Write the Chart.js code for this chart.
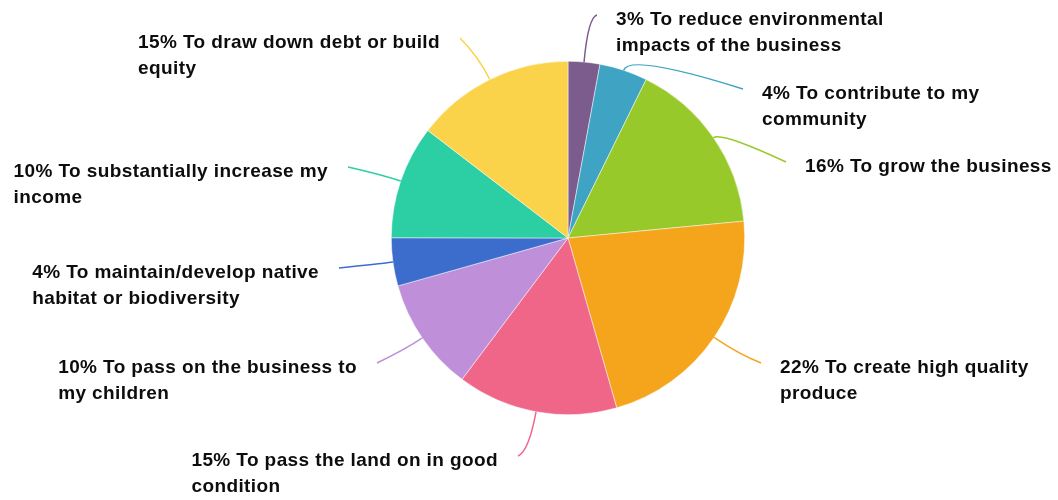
<!DOCTYPE html>
<html>
<head>
<meta charset="utf-8">
<script src="https://cdn.jsdelivr.net/npm/chart.js@4.4.1/dist/chart.umd.min.js"></script>
<style>
  html, body { margin: 0; padding: 0; background: #fff; }
  #wrap { width: 1058px; height: 500px; }
</style>
</head>
<body>
<div id="wrap"><canvas id="pie" width="1058" height="500"></canvas></div>
<script>
// data (share of respondents)
const labels = [
  ["3% To reduce environmental", "impacts of the business"],
  ["4% To contribute to my", "community"],
  ["16% To grow the business"],
  ["22% To create high quality", "produce"],
  ["15% To pass the land on in good", "condition"],
  ["10% To pass on the business to", "my children"],
  ["4% To maintain/develop native", "habitat or biodiversity"],
  ["10% To substantially increase my", "income"],
  ["15% To draw down debt or build", "equity"],
];
const values = [2.9, 4.4, 16.2, 22.1, 14.7, 10.4, 4.4, 10.4, 14.6];
const colors = [
  "#7b5c8d", "#3fa4c4", "#98c92b", "#f5a51c", "#f06689",
  "#bf8fda", "#3d6dcc", "#2ccfa3", "#fad34a",
];

// where each leader line ends (label anchor) and how far it bows out
const anchors = [
  [597, 15, 45], [743, 89, 18], [786, 162, 10], [761, 363, 30], [518, 456, 40],
  [377, 363, 20], [339, 268, 15], [348, 167, 20], [460, 38, 25],
];

const labelPlugin = {
  id: "leaderLabels",
  afterDatasetsDraw(chart) {
    const ctx = chart.ctx;
    const arcs = chart.getDatasetMeta(0).data;
    ctx.save();
    ctx.font = "bold 19px 'Liberation Sans', Arial, sans-serif";
    if ("letterSpacing" in ctx) ctx.letterSpacing = "0.4px";
    ctx.textBaseline = "middle";
    arcs.forEach((arc, i) => {
      const { x, y, startAngle, endAngle, outerRadius } = arc.getProps(
        ["x", "y", "startAngle", "endAngle", "outerRadius"], true
      );
      const mid = (startAngle + endAngle) / 2;
      const [ex, ey, bow] = anchors[i];
      const sx = x + Math.cos(mid) * outerRadius;
      const sy = y + Math.sin(mid) * outerRadius;
      const cx = x + Math.cos(mid) * (outerRadius + bow);
      const cy = y + Math.sin(mid) * (outerRadius + bow);

      ctx.strokeStyle = colors[i];
      ctx.lineWidth = 1.5;
      ctx.beginPath();
      ctx.moveTo(sx, sy);
      ctx.quadraticCurveTo(cx, cy, ex, ey);
      ctx.stroke();

      const lines = labels[i];
      const w = Math.max(...lines.map((l) => ctx.measureText(l).width));
      const tx = ex > x ? ex + 19 : ex - 20 - w;
      ctx.fillStyle = "#0d0d0d";
      ctx.textAlign = "left";
      lines.forEach((l, k) => ctx.fillText(l, tx, ey + 5 + k * 25.5));
    });
    ctx.restore();
  },
};

new Chart(document.getElementById("pie"), {
  type: "pie",
  data: {
    labels: labels.map((l) => l.join(" ")),
    datasets: [
      {
        data: values,
        backgroundColor: colors,
        borderColor: "rgba(255,255,255,0.8)",
        borderWidth: 0.6,
        hoverOffset: 0,
      },
    ],
  },
  options: {
    responsive: false,
    animation: false,
    layout: { padding: { top: 61, bottom: 85, left: 200, right: 122 } },
    plugins: { legend: { display: false }, tooltip: { enabled: false } },
  },
  plugins: [labelPlugin],
});
</script>
</body>
</html>
